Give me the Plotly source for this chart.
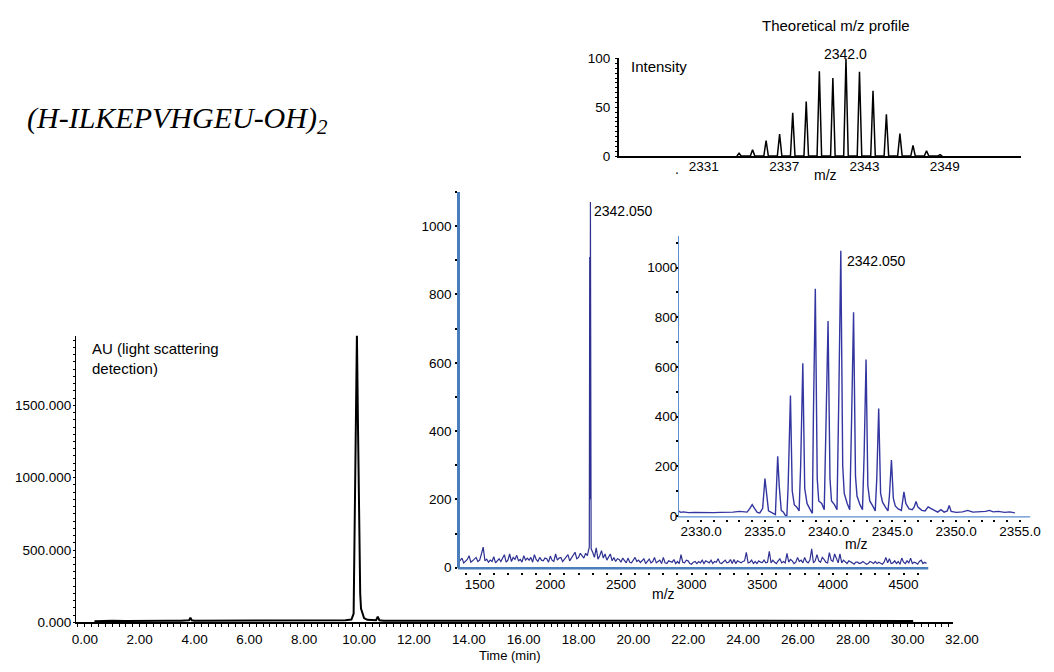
import plotly.graph_objects as go

W, H = 1054, 672
FONT = "Liberation Sans, Arial, sans-serif"

# ---------------- data ----------------
main_time = [0.35, 0.6, 1.0, 1.5, 2.0, 2.5, 3.0, 3.5, 3.8, 3.85, 3.9, 4.0, 5.0, 6.0, 7.0,
             8.0, 9.0, 9.5, 9.72, 9.80, 9.84, 9.88, 9.92, 9.96, 10.0, 10.04, 10.07,
             10.12, 10.18, 10.3, 10.5, 10.62, 10.68, 10.74, 10.9, 12.0, 14.0, 16.0,
             18.0, 20.0, 22.0, 24.0, 26.0, 28.0, 30.0, 30.2]
main_au = [8, 10, 12, 10, 12, 10, 11, 12, 14, 32, 14, 12, 13, 12, 12,
           13, 13, 14, 20, 60, 700, 1500, 1990, 1350, 700, 200, 95,
           60, 30, 18, 15, 15, 40, 15, 12, 12, 11, 12, 11, 12, 11, 12, 11, 12, 11, 10]
main_xticks = [0, 2, 4, 6, 8, 10, 12, 14, 16, 18, 20, 22, 24, 26, 28, 30]
main_xlabels = ["0.00", "2.00", "4.00", "6.00", "8.00", "10.00", "12.00", "14.00", "16.00",
                "18.00", "20.00", "22.00", "24.00", "26.00", "28.00", "30.00"]
main_yticks = [0, 500, 1000, 1500]
main_ylabels = ["0.000", "500.000", "1000.000", "1500.000"]

MID_STEP = 12.5
mid_noise_a_start = 1350
mid_noise_a = [15, 22, 28, 14, 18, 24, 35, 16, 20, 26, 30, 18, 22, 40, 60, 20, 25, 16, 22, 18,
               32, 14, 20, 26, 18, 30, 38, 16, 22, 40, 18, 30, 24, 36, 20, 24, 16, 35, 22, 28,
               22, 30, 16, 38, 24, 18, 30, 22, 20, 28, 26, 16, 34, 22, 18, 40, 22, 28, 30, 18,
               25, 32, 38, 20, 28, 36, 45, 26, 30, 42, 34, 28, 42, 35]
mid_peak_mz = [2270, 2276, 2279, 2281, 2284, 2286, 2289]
mid_peak_int = [50, 60, 910, 200, 1071, 300, 55]
mid_noise_b_start = 2300
mid_noise_b = [45, 30, 58, 25, 35, 50, 28, 40, 22, 32, 40, 20, 30, 18, 26, 24, 16, 28, 20, 14,
               28, 16, 14, 22, 30, 18, 22, 15, 20, 26, 12, 20, 25, 14, 18, 30, 14, 18, 22, 12,
               30, 14, 12, 20, 18, 16, 24, 12, 18, 12, 38, 16, 14, 22, 20, 12, 10, 16, 18, 12,
               18, 14, 22, 12, 20, 16, 14, 22, 12, 18, 16, 26, 14, 12, 18, 22, 14, 16, 24, 12,
               24, 12, 20, 16, 14, 18, 20, 45, 14, 16, 22, 12, 18, 12, 20, 16, 15, 22, 14, 16,
               48, 14, 22, 16, 12, 20, 26, 14, 18, 14, 42, 16, 24, 20, 12, 16, 30, 18, 22, 14,
               30, 18, 14, 22, 55, 14, 20, 38, 20, 16, 30, 24, 16, 14, 44, 22, 18, 40, 26, 14,
               40, 14, 22, 18, 12, 20, 18, 14, 10, 16, 16, 12, 14, 18, 14, 10, 12, 18, 16, 12,
               18, 12, 16, 14, 10, 16, 30, 14, 26, 12, 14, 20, 12, 18, 10, 28, 16, 12, 20, 14,
               28, 12, 16, 14, 10, 18, 22, 12, 16, 12]
mid_xticks = [1500, 2000, 2500, 3000, 3500, 4000, 4500]
mid_yticks = [0, 200, 400, 600, 800, 1000]

iso_mz = [2328.2, 2328.4, 2328.6, 2329.0, 2329.5, 2330.0, 2330.5, 2331.0, 2331.5, 2332.0,
          2332.5, 2333.0, 2333.3, 2333.6, 2333.82, 2334.0, 2334.18, 2334.4, 2334.6, 2334.82,
          2335.0, 2335.12, 2335.28, 2335.5, 2335.72, 2335.82, 2336.0, 2336.12, 2336.28, 2336.45,
          2336.6, 2336.72, 2336.82, 2337.0, 2337.14, 2337.3, 2337.5, 2337.68, 2337.8, 2337.97,
          2338.12, 2338.3, 2338.55, 2338.72, 2338.8, 2338.95, 2339.1, 2339.22, 2339.45, 2339.65,
          2339.8, 2339.95, 2340.1, 2340.22, 2340.45, 2340.65, 2340.8, 2340.95, 2341.1, 2341.22,
          2341.45, 2341.65, 2341.8, 2341.95, 2342.1, 2342.22, 2342.45, 2342.65, 2342.78, 2342.93,
          2343.07, 2343.22, 2343.45, 2343.65, 2343.77, 2343.92, 2344.07, 2344.22, 2344.45, 2344.65,
          2344.76, 2344.92, 2345.07, 2345.22, 2345.45, 2345.7, 2345.9, 2346.05, 2346.3, 2346.55,
          2346.7, 2346.85, 2347.0, 2347.3, 2347.55, 2347.8, 2348.0, 2348.3, 2348.55, 2348.8,
          2349.05, 2349.3, 2349.45, 2349.6, 2350.0, 2350.5, 2350.9, 2351.3, 2351.8, 2352.3,
          2352.6, 2352.9, 2353.3, 2353.8, 2354.2, 2354.6]
iso_int = [20, 14, 16, 13, 14, 13, 14, 13, 14, 14,
           15, 18, 16, 15, 30, 45, 30, 14, 12, 30,
           150, 80, 20, 14, 10, 5, 240, 120, 22, 15,
           2, 0, 120, 485, 100, 45, 35, 20, 200, 615,
           110, 50, 25, 10, 400, 915, 150, 60, 50, 25,
           400, 785, 150, 60, 45, 25, 500, 1068, 200, 90,
           50, 25, 400, 820, 160, 80, 45, 25, 250, 630,
           120, 60, 40, 20, 150, 432, 90, 55, 35, 20,
           80, 225, 70, 40, 28, 22, 97, 50, 28, 25,
           35, 58, 35, 22, 20, 36, 30, 20, 15, 25,
           15, 20, 42, 18, 14, 16, 22, 15, 16, 18,
           22, 16, 18, 14, 16, 12]
iso_xticks = [2330, 2335, 2340, 2345, 2350, 2355]
iso_xlabels = ["2330.0", "2335.0", "2340.0", "2345.0", "2350.0", "2355.0"]
iso_yticks = [0, 200, 400, 600, 800, 1000]

theo_mz = [2333.63, 2334.64, 2335.65, 2336.66, 2337.64, 2338.65, 2339.63, 2340.64,
           2341.62, 2342.63, 2343.64, 2344.64, 2345.65, 2346.63, 2347.64, 2348.65]
theo_int = [3, 6.5, 16, 22.5, 44.5, 56, 87, 80, 100, 86.5, 67, 43, 23, 11, 5.5, 1.5]
theo_xticks = [2331, 2337, 2343, 2349]
theo_yticks = [0, 50, 100]

# ---------------- figure ----------------
def fx(p):
    return p / W


def fy(p):
    return 1 - p / H


mid_mz = ([mid_noise_a_start + MID_STEP * i for i in range(len(mid_noise_a))] + mid_peak_mz
          + [mid_noise_b_start + MID_STEP * i for i in range(len(mid_noise_b))])
mid_int = mid_noise_a + mid_peak_int + mid_noise_b

fig = go.Figure()
fig.add_trace(go.Scatter(x=main_time, y=main_au, mode="lines",
                         line=dict(color="black", width=2), xaxis="x", yaxis="y",
                         hoverinfo="skip"))
fig.add_trace(go.Scatter(x=mid_mz, y=mid_int, mode="lines",
                         line=dict(color="#2e3192", width=1.2), xaxis="x2", yaxis="y2",
                         hoverinfo="skip"))
fig.add_trace(go.Scatter(x=iso_mz, y=iso_int, mode="lines",
                         line=dict(color="#3336a0", width=1.4), xaxis="x3", yaxis="y3",
                         hoverinfo="skip"))
HW = 0.17
tx, ty = [], []
for c, h in zip(theo_mz, theo_int):
    tx += [c - HW, c, c + HW]
    ty += [0, h, 0]
fig.add_trace(go.Scatter(x=tx, y=ty, mode="lines",
                         line=dict(color="black", width=1.5), xaxis="x4", yaxis="y4",
                         hoverinfo="skip"))

tickfont = dict(family=FONT, size=13.5, color="black")
common = dict(showgrid=False, zeroline=False, tickfont=tickfont)

fig.update_layout(
    width=W, height=H,
    margin=dict(l=0, r=0, t=0, b=0),
    paper_bgcolor="white",
    plot_bgcolor="rgba(0,0,0,0)",
    showlegend=False,
    font=dict(family=FONT, size=14, color="black"),
    xaxis=dict(domain=[fx(73), fx(962)], range=[-0.32, 31.66], anchor="y",
               showline=True, linecolor="black", linewidth=2,
               tickmode="array", tickvals=main_xticks, ticktext=main_xlabels,
               ticks="outside", ticklen=3, tickcolor="black", tickwidth=1,
               minor=dict(tick0=0, dtick=0.25, ticks="outside", ticklen=3,
                          tickcolor="black", tickwidth=1),
               ticklabelstandoff=0, **common),
    yaxis=dict(domain=[fy(629.5), fy(336.7)], range=[0, 1981], anchor="x",
               showline=True, linecolor="black", linewidth=1,
               tickmode="array", tickvals=main_yticks, ticktext=main_ylabels,
               ticks="outside", ticklen=2, tickcolor="black",
               minor=dict(tick0=0, dtick=50, ticks="outside", ticklen=2, tickcolor="black"),
               ticklabelstandoff=-1, **common),
    xaxis2=dict(domain=[fx(460), fx(936.7)], range=[1346, 4675], anchor="free",
                position=fy(578), showline=False,
                tickmode="array", tickvals=mid_xticks,
                ticks="outside", ticklen=2, tickwidth=2, tickcolor="black",
                minor=dict(tick0=0, dtick=100, ticks="outside", ticklen=2, tickwidth=2,
                           tickcolor="black"),
                ticklabelstandoff=-2, **common),
    yaxis2=dict(domain=[fy(574.3), fy(190)], range=[-2, 1100], anchor="free",
                position=fx(460),
                showline=True, linecolor="#4a7ebb", linewidth=2.5,
                tickmode="array", tickvals=mid_yticks,
                ticks="outside", ticklen=2, tickwidth=2, tickcolor="black",
                minor=dict(tick0=0, dtick=100, ticks="outside", ticklen=2, tickwidth=1.5,
                           tickcolor="black"),
                ticklabelstandoff=1, **common),
    xaxis3=dict(domain=[fx(683.3), fx(1040)], range=[2328.2, 2355.8], anchor="free",
                position=fy(524), showline=False,
                tickmode="array", tickvals=iso_xticks, ticktext=iso_xlabels,
                ticks="outside", ticklen=2, tickwidth=2, tickcolor="black",
                minor=dict(tick0=0, dtick=1, ticks="outside", ticklen=2, tickwidth=2,
                           tickcolor="black"),
                ticklabelstandoff=-2, **common),
    yaxis3=dict(domain=[fy(521.7), fy(235)], range=[-4, 1127], anchor="free",
                position=fx(683.3),
                showline=True, linecolor="#5b8fd0", linewidth=1.3,
                tickmode="array", tickvals=iso_yticks,
                ticks="outside", ticklen=2, tickwidth=2, tickcolor="black",
                minor=dict(tick0=0, dtick=100, ticks="outside", ticklen=2, tickwidth=1.5,
                           tickcolor="black"),
                ticklabelstandoff=-4, **common),
    xaxis4=dict(domain=[fx(623.3), fx(1030.7)], range=[2324.66, 2354.7], anchor="y4",
                showline=True, linecolor="black", linewidth=2,
                tickmode="array", tickvals=theo_xticks, ticks="", ticklen=0,
                ticklabelstandoff=-3, **common),
    yaxis4=dict(domain=[fy(153.3), fy(52.7)], range=[0, 101], anchor="x4",
                showline=True, linecolor="black", linewidth=2,
                tickmode="array", tickvals=theo_yticks,
                ticks="outside", ticklen=2, tickcolor="black",
                minor=dict(tick0=0, dtick=5, ticks="outside", ticklen=2, tickcolor="black"),
                ticklabelstandoff=2, **common),
)

# axis lines of the two blue spectra (their ticks sit detached below them)
fig.add_shape(type="line", xref="paper", yref="paper", x0=fx(460), x1=fx(936.7),
              y0=fy(574.3), y1=fy(574.3), line=dict(color="#4a7ebb", width=2.5))
fig.add_shape(type="line", xref="paper", yref="paper", x0=fx(683.3), x1=fx(1040),
              y0=fy(521.7), y1=fy(521.7), line=dict(color="#5b8fd0", width=1.3))


def ann(text, x, y, xanchor="center", size=14, **kw):
    fig.add_annotation(text=text, x=fx(x), y=fy(y), xref="paper", yref="paper",
                       xanchor=xanchor, yanchor="middle", showarrow=False,
                       font=dict(family=kw.pop("family", FONT), size=size, color="black"),
                       **kw)


ann("<i>(H-ILKEPVHGEU-OH)<sub>2</sub></i>", 21, 116, xanchor="left", size=30,
    family="Liberation Serif, Times New Roman, serif")
ann("AU (light scattering<br>detection)", 87, 359.5, xanchor="left", align="left", size=15)
ann("Time (min)", 513, 663, size=13)
ann("32.00", 971, 647, size=13.5)
ann("2342.050", 596, 209.5, xanchor="left")
ann("m/z", 668, 601)
ann("2342.050", 852, 260.7, xanchor="left")
ann("m/z", 864, 549.3)
ann("Theoretical m/z profile", 842.7, 20, size=15)
ann("Intensity", 633, 61.7, xanchor="left", size=15)
ann("2342.0", 852.7, 49.3)
ann("m/z", 832.3, 172.3)
ann(".", 681.7, 166)

fig.write_html("out.html")
